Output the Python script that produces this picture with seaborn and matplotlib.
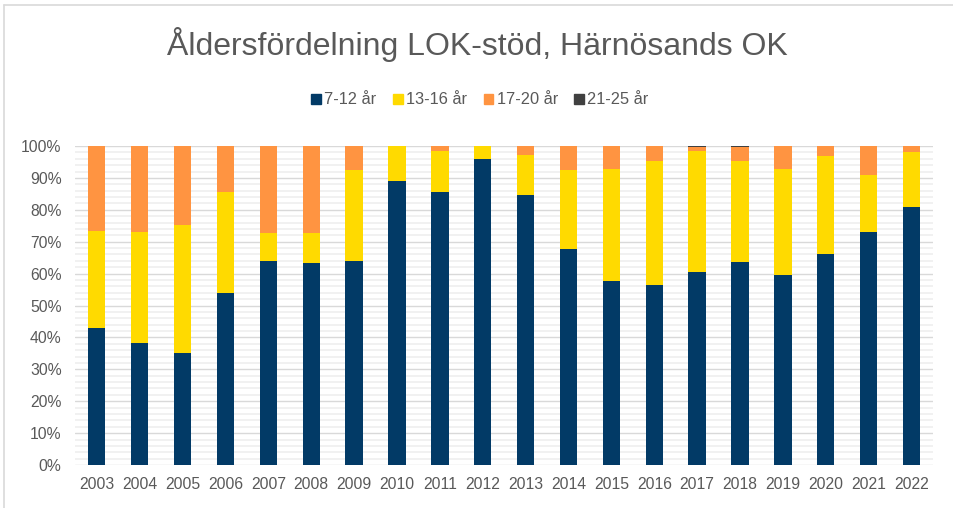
import matplotlib
matplotlib.use("Agg")
import matplotlib.pyplot as plt
import seaborn as sns
import numpy as np
from matplotlib.patches import Patch
from matplotlib.lines import Line2D
from matplotlib.ticker import MultipleLocator, FuncFormatter

years = [str(y) for y in range(2003, 2023)]
age_7_12 = [42.9, 38.1, 35.2, 53.8, 64.0, 63.2, 64.0, 89.0, 85.6, 95.8,
            84.5, 67.7, 57.7, 56.3, 60.5, 63.7, 59.7, 66.2, 73.0, 81.0]
age_13_16 = [30.6, 34.9, 40.1, 31.7, 8.7, 9.5, 28.4, 11.0, 12.8, 4.2,
             12.7, 24.8, 35.0, 39.0, 37.8, 31.7, 33.2, 30.8, 17.8, 17.2]
age_17_20 = [26.5, 27.0, 24.7, 14.5, 27.3, 27.3, 7.6, 0.0, 1.6, 0.0,
             2.8, 7.5, 7.3, 4.7, 1.4, 4.3, 7.1, 3.0, 9.2, 1.8]
age_21_25 = [0, 0, 0, 0, 0, 0, 0, 0, 0, 0,
             0, 0, 0, 0, 0.3, 0.3, 0, 0, 0, 0]
series_labels = ["7-12 år", "13-16 år", "17-20 år", "21-25 år"]
title = "Åldersfördelning LOK-stöd, Härnösands OK"

colors = ["#023A66", "#FFDA00", "#FF9441", "#404040"]
text_color = "#595959"

sns.set_theme(style="white")
plt.rcParams["font.family"] = ["Liberation Sans", "DejaVu Sans"]

fig = plt.figure(figsize=(9.54, 5.08), dpi=100)
ax = fig.add_axes([0.079, 0.0846, 0.899, 0.628])

series = [np.array(age_7_12), np.array(age_13_16), np.array(age_17_20), np.array(age_21_25)]
cums = np.cumsum(series, axis=0)

# draw from top of stack down so each lower segment overlays the one above
for i in range(3, -1, -1):
    sns.barplot(x=years, y=cums[i], color=colors[i], saturation=1, width=0.405,
                errorbar=None, ax=ax, order=years, zorder=3,
                edgecolor=colors[i], linewidth=0)

ax.set_ylim(0, 100)
ax.set_xlim(-0.5, len(years) - 0.5)
ax.yaxis.set_major_locator(MultipleLocator(10))
ax.yaxis.set_minor_locator(MultipleLocator(2))
ax.yaxis.set_major_formatter(FuncFormatter(lambda v, p: f"{int(round(v))}%"))
ax.grid(axis="y", which="major", color="#D9D9D9", linewidth=1.0, zorder=1)
ax.grid(axis="y", which="minor", color="#EFEFEF", linewidth=1.2, zorder=0)
ax.set_axisbelow(True)
for s in ax.spines.values():
    s.set_visible(False)
ax.tick_params(axis="both", which="both", length=0, labelsize=11.3, colors=text_color)
ax.tick_params(axis="y", pad=10)
ax.tick_params(axis="x", pad=8.5)
ax.set_xlabel("")
ax.set_ylabel("")

fig.text(0.5, 1 - 45 / 508, title, ha="center", va="center", fontsize=23, color=text_color)

handles = [Patch(facecolor=c, edgecolor=c) for c in colors]
fig.legend(handles, series_labels, loc="center", bbox_to_anchor=(0.5 + 3 / 954, 1 - 100 / 508),
           ncol=4, frameon=False, fontsize=11.8, handlelength=0.6, handleheight=0.6,
           handletextpad=0.2, columnspacing=1.0, labelcolor=text_color)

# outer chart border (top and left visible in crop)
fig.add_artist(Line2D([4 / 954, 4 / 954], [0, 1 - 5 / 508], transform=fig.transFigure,
                      color="#D9D9D9", linewidth=1.2))
fig.add_artist(Line2D([4 / 954, 1], [1 - 5 / 508, 1 - 5 / 508], transform=fig.transFigure,
                      color="#D9D9D9", linewidth=1.2))

fig.savefig("out.png", dpi=100)
